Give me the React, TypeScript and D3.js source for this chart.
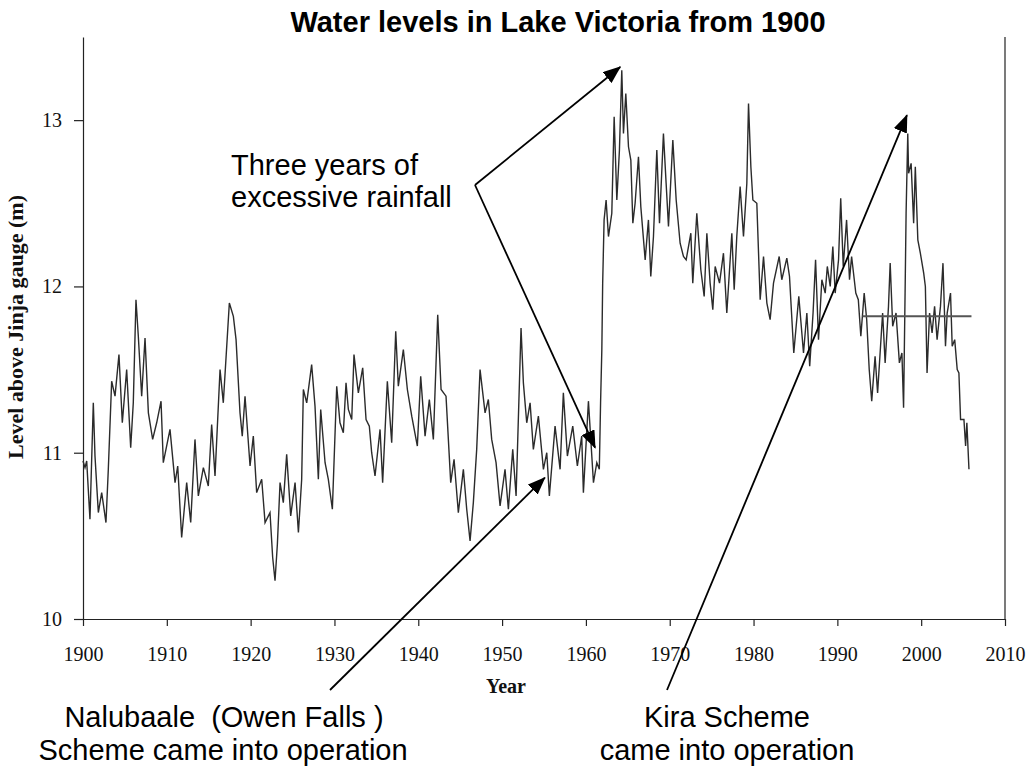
import React, { useEffect, useRef } from "react";
import { select, scaleLinear, axisBottom, axisLeft, line, curveLinear } from "d3";

// Lake Victoria level at Jinja (m)
const years = [
  1900.0, 1900.24, 1900.44, 1900.83, 1901.23, 1901.43, 1901.83, 1902.23, 1902.74, 1903.02,
  1903.42, 1903.82, 1904.29, 1904.69, 1905.21, 1905.69, 1906.0, 1906.32, 1906.6, 1907.0,
  1907.4, 1907.8, 1908.31, 1908.79, 1909.31, 1909.58, 1910.38, 1910.98, 1911.3, 1911.77,
  1912.37, 1912.85, 1913.36, 1913.76, 1914.36, 1914.95, 1915.35, 1915.75, 1916.35, 1916.74,
  1917.46, 1917.94, 1918.26, 1918.73, 1919.0, 1919.33, 1919.93, 1920.32, 1920.72, 1921.32,
  1921.72, 1922.31, 1922.63, 1922.91, 1923.19, 1923.51, 1923.9, 1924.3, 1924.78, 1925.3,
  1925.7, 1926.09, 1926.29, 1926.69, 1927.28, 1927.68, 1928.08, 1928.36, 1928.88, 1929.27,
  1929.75, 1930.27, 1930.66, 1931.06, 1931.38, 1931.66, 1932.06, 1932.33, 1932.85, 1933.37,
  1933.77, 1934.16, 1934.44, 1934.84, 1935.44, 1935.75, 1936.31, 1936.83, 1937.31, 1937.62,
  1938.22, 1938.7, 1939.22, 1939.89, 1940.29, 1940.81, 1941.32, 1941.8, 1942.32, 1942.72,
  1943.31, 1943.87, 1944.27, 1944.78, 1945.38, 1945.78, 1946.18, 1946.57, 1946.97, 1947.37,
  1947.97, 1948.36, 1948.76, 1949.28, 1949.76, 1950.35, 1950.75, 1951.27, 1951.67, 1952.26,
  1952.54, 1952.94, 1953.34, 1953.73, 1954.33, 1954.93, 1955.33, 1955.64, 1956.32, 1956.92,
  1957.31, 1957.79, 1958.43, 1958.98, 1959.5, 1959.7, 1960.3, 1960.9, 1961.3, 1961.6,
  1961.75, 1961.9, 1962.0, 1962.17, 1962.41, 1962.69, 1963.09, 1963.37, 1963.69, 1964.0,
  1964.28, 1964.48, 1964.76, 1965.08, 1965.36, 1965.6, 1965.87, 1966.27, 1966.55, 1967.07,
  1967.46, 1967.74, 1968.06, 1968.46, 1968.78, 1969.25, 1969.57, 1969.85, 1970.37, 1970.77,
  1971.24, 1971.64, 1971.96, 1972.52, 1972.75, 1973.23, 1973.71, 1974.11, 1974.43, 1974.82,
  1975.14, 1975.42, 1975.94, 1976.41, 1976.81, 1977.41, 1977.69, 1978.0, 1978.4, 1978.8,
  1979.2, 1979.4, 1979.68, 1979.92, 1980.39, 1980.79, 1981.19, 1981.59, 1981.98, 1982.38,
  1983.06, 1983.37, 1983.97, 1984.29, 1984.8, 1985.4, 1985.96, 1986.36, 1986.7, 1987.1,
  1987.4, 1987.75, 1988.15, 1988.55, 1988.8, 1989.15, 1989.46, 1989.74, 1990.14, 1990.4,
  1990.7, 1991.1, 1991.45, 1991.7, 1992.2, 1992.5, 1992.8, 1993.2, 1993.5, 1993.8,
  1994.1, 1994.5, 1994.8, 1995.1, 1995.4, 1995.7, 1996.1, 1996.3, 1996.6, 1997.0,
  1997.4, 1997.7, 1997.9, 1998.1, 1998.2, 1998.4, 1998.5, 1998.8, 1999.1, 1999.3,
  1999.6, 1999.9, 2000.3, 2000.5, 2000.7, 2001.0, 2001.3, 2001.6, 2001.9, 2002.3,
  2002.6, 2002.9, 2003.1, 2003.5, 2003.7, 2004.0, 2004.3, 2004.5, 2004.7, 2005.1,
  2005.3, 2005.45, 2005.7,
];
const levels = [
  10.95, 10.91, 10.95, 10.6, 11.3, 10.98, 10.64, 10.76, 10.58, 10.9,
  11.43, 11.34, 11.59, 11.18, 11.5, 11.03, 11.3, 11.92, 11.7, 11.34,
  11.69, 11.24, 11.08, 11.18, 11.31, 10.94, 11.14, 10.82, 10.92, 10.49,
  10.82, 10.58, 11.08, 10.74, 10.91, 10.8, 11.17, 10.86, 11.5, 11.3,
  11.9, 11.82, 11.68, 11.24, 11.1, 11.34, 10.92, 11.1, 10.76, 10.84,
  10.58, 10.64, 10.37, 10.23, 10.45, 10.82, 10.7, 10.99, 10.62, 10.82,
  10.52, 10.84, 11.38, 11.3, 11.53, 11.28, 10.84, 11.26, 10.94, 10.84,
  10.66, 11.4, 11.18, 11.12, 11.42, 11.26, 11.2, 11.59, 11.36, 11.51,
  11.2, 11.16, 11.0, 10.86, 11.14, 10.82, 11.43, 11.06, 11.73, 11.4,
  11.62, 11.38, 11.22, 11.04, 11.46, 11.1, 11.32, 11.08, 11.83, 11.38,
  11.34, 10.82, 10.96, 10.64, 10.9, 10.66, 10.47, 10.7, 11.02, 11.5,
  11.24, 11.32, 11.08, 10.94, 10.68, 10.9, 10.66, 11.02, 10.74, 11.75,
  11.42, 11.18, 11.3, 11.02, 11.22, 10.9, 11.0, 10.74, 11.16, 10.9,
  11.36, 10.98, 11.16, 10.92, 11.1, 10.76, 11.31, 10.82, 10.94, 10.9,
  11.3, 11.62, 12.02, 12.4, 12.52, 12.3, 12.44, 13.02, 12.52, 12.82,
  13.3, 12.92, 13.16, 12.84, 12.76, 12.38, 12.5, 12.78, 12.48, 12.16,
  12.4, 12.06, 12.3, 12.82, 12.38, 12.92, 12.62, 12.36, 12.88, 12.52,
  12.26, 12.18, 12.16, 12.32, 12.02, 12.44, 12.1, 11.94, 12.32, 12.02,
  11.86, 12.12, 12.02, 12.2, 11.84, 12.32, 11.98, 12.3, 12.6, 12.3,
  12.62, 13.1, 12.72, 12.52, 12.5, 11.92, 12.18, 11.9, 11.8, 12.02,
  12.18, 12.04, 12.17, 12.06, 11.6, 11.94, 11.6, 11.84, 11.52, 11.84,
  12.16, 11.68, 12.04, 11.96, 12.12, 12.0, 12.24, 11.96, 12.16, 12.53,
  12.12, 12.4, 12.04, 12.18, 11.96, 11.92, 11.7, 11.96, 11.8, 11.5,
  11.31, 11.58, 11.36, 11.6, 11.84, 11.54, 11.88, 12.14, 11.76, 11.84,
  11.54, 11.6, 11.27, 12.04, 12.44, 12.92, 12.68, 12.74, 12.38, 12.72,
  12.28, 12.2, 12.08, 12.0, 11.48, 11.84, 11.72, 11.88, 11.68, 11.88,
  12.14, 11.64, 11.84, 11.96, 11.64, 11.68, 11.5, 11.48, 11.2, 11.2,
  11.04, 11.18, 10.9,
];

const xTicks = [1900, 1910, 1920, 1930, 1940, 1950, 1960, 1970, 1980, 1990, 2000, 2010];
const yTicks = [10, 11, 12, 13];

// horizontal reference level drawn across the late period
const refLevel = 11.82;
const refYears = [1993, 2006];

// arrow targets in data units
const peakTarget = [1964.1, 13.32];
const dropTarget = [1961.1, 11.03];
const owenTarget = [1955.1, 10.85];
const kiraTarget = [1998.3, 13.03];

const W = 1030;
const H = 767;
const sans = "'Liberation Sans', Arial, sans-serif";
const serif = "'Liberation Serif', 'Times New Roman', serif";

export default function App() {
  const xAxisRef = useRef<SVGGElement>(null);
  const yAxisRef = useRef<SVGGElement>(null);

  const x = scaleLinear().domain([1900, 2010]).range([83, 1005]);
  const y = scaleLinear().domain([10, 13.5]).range([619, 37]);

  useEffect(() => {
    const xa = axisBottom(x)
      .tickValues(xTicks)
      .tickFormat((d: any) => String(d))
      .tickSize(7)
      .tickSizeOuter(0)
      .tickPadding(21);
    const gx = select(xAxisRef.current).call(xa as any);
    gx.selectAll("text").attr("font-family", serif).attr("font-size", 20).attr("fill", "#111");
    gx.selectAll("line, path").attr("stroke", "#222").attr("stroke-width", 1.2);

    const ya = axisLeft(y)
      .tickValues(yTicks)
      .tickFormat((d: any) => String(d))
      .tickSize(9)
      .tickSizeOuter(0)
      .tickPadding(12);
    const gy = select(yAxisRef.current).call(ya as any);
    gy.selectAll("text").attr("font-family", serif).attr("font-size", 20).attr("fill", "#111");
    gy.selectAll("line, path").attr("stroke", "#222").attr("stroke-width", 1.2);
  }, []);

  const pts = years.map((yr, i) => [yr, levels[i]] as [number, number]);
  const path = line<[number, number]>()
    .x((d) => x(d[0]))
    .y((d) => y(d[1]))
    .curve(curveLinear)(pts);

  const arrow = (x1: number, y1: number, t: number[]) => (
    <line
      x1={x1}
      y1={y1}
      x2={x(t[0])}
      y2={y(t[1])}
      stroke="#000"
      strokeWidth={1.8}
      markerEnd="url(#head)"
    />
  );

  return (
    <div style={{ position: "absolute", left: 0, top: 0 }}>
      <svg width={W} height={H} style={{ display: "block", background: "#fff" }}>
        <defs>
          <marker
            id="head"
            markerUnits="userSpaceOnUse"
            markerWidth={18}
            markerHeight={14}
            refX={17}
            refY={7}
            orient="auto"
          >
            <path d="M0,0 L18,7 L0,14 Z" fill="#000" />
          </marker>
        </defs>

        <text x={558} y={32} textAnchor="middle" fontFamily={sans} fontWeight="bold" fontSize={29} fill="#000">
          Water levels in Lake Victoria from 1900
        </text>

        <g ref={xAxisRef} transform="translate(0,619)" />
        <g ref={yAxisRef} transform="translate(83,0)" />
        <line x1={x(2010)} x2={x(2010)} y1={y(13.5)} y2={y(10)} stroke="#222" strokeWidth={1.2} />

        <path d={path || ""} fill="none" stroke="#2b2b2b" strokeWidth={1.4} strokeLinejoin="miter" />

        <line
          x1={x(refYears[0])}
          x2={x(refYears[1])}
          y1={y(refLevel)}
          y2={y(refLevel)}
          stroke="#555"
          strokeWidth={2}
        />

        <text
          transform={`translate(23,327) rotate(-90)`}
          textAnchor="middle"
          fontFamily={serif}
          fontWeight="bold"
          fontSize={22}
          fill="#111"
        >
          Level above Jinja gauge (m)
        </text>
        <text x={506} y={693} textAnchor="middle" fontFamily={serif} fontWeight="bold" fontSize={20} fill="#111">
          Year
        </text>

        <g fontFamily={sans} fontSize={29} fill="#000">
          <text x={231} y={175}>Three years of</text>
          <text x={231} y={207}>excessive rainfall</text>
          <text x={224} y={727} textAnchor="middle" style={{ whiteSpace: "pre" }}>
            {"Nalubaale  (Owen Falls )"}
          </text>
          <text x={223} y={760} textAnchor="middle">Scheme came into operation</text>
          <text x={727} y={727} textAnchor="middle">Kira Scheme</text>
          <text x={727} y={760} textAnchor="middle">came into operation</text>
        </g>

        {arrow(475, 185, peakTarget)}
        {arrow(475, 185, dropTarget)}
        {arrow(330, 690, owenTarget)}
        {arrow(667, 690, kiraTarget)}
      </svg>
    </div>
  );
}
